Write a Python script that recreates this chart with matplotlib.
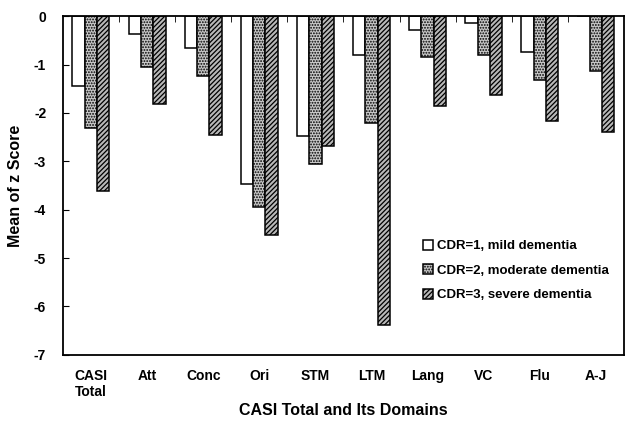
import matplotlib.pyplot as plt
import numpy as np

plt.rcParams['font.family'] = ['Liberation Sans', 'DejaVu Sans']
plt.rcParams['hatch.linewidth'] = 0.9
plt.rcParams['axes.unicode_minus'] = False

# domains and mean z scores per CDR group
domains = ["CASI\nTotal", "Att", "Conc", "Ori", "STM", "LTM", "Lang", "VC", "Flu", "A-J"]
cdr1 = [-1.44, -0.36, -0.65, -3.46, -2.47, -0.81, -0.29, -0.15, -0.74, 0.0]
cdr2 = [-2.32, -1.05, -1.24, -3.95, -3.06, -2.20, -0.84, -0.81, -1.32, -1.13]
cdr3 = [-3.61, -1.82, -2.46, -4.52, -2.69, -6.38, -1.85, -1.62, -2.17, -2.39]
labels = ["CDR=1, mild dementia", "CDR=2, moderate dementia", "CDR=3, severe dementia"]

fig = plt.figure(figsize=(6.29, 4.24), dpi=100)
ax = fig.add_axes([0.1, 0.163, 0.892, 0.799])

x = np.arange(len(domains)) + 0.5
w = 0.22
ax.bar(x - w, cdr1, w, color="white", edgecolor="black", linewidth=1.1, label=labels[0])
ax.bar(x, cdr2, w, color="#c8c8c8", edgecolor="black", linewidth=1.1, hatch="......", label=labels[1])
ax.bar(x + w, cdr3, w, color="#b8b8b8", edgecolor="black", linewidth=1.1, hatch="///////", label=labels[2])

ax.set_xlim(0, 10)
ax.set_ylim(-7, 0)
ax.set_yticks(range(-7, 1))
ax.set_xticks(x)
ax.set_xticklabels(domains, fontweight="bold", fontsize=10, ha="center", multialignment="left")
ax.set_xticks(np.arange(1, 10), minor=True)
ax.tick_params(axis="x", which="major", length=0, pad=10)
ax.tick_params(axis="x", which="minor", top=True, bottom=False, direction="in", length=4)
ax.tick_params(axis="y", direction="in", length=4, labelsize=10, pad=12)
for lab in ax.get_yticklabels():
    lab.set_fontweight("bold")
for s in ax.spines.values():
    s.set_linewidth(1.3)

ax.set_ylabel("Mean of z Score", fontsize=11.5, fontweight="bold", labelpad=8)
fig.text(0.546, 0.033, "CASI Total and Its Domains", fontsize=11.5, fontweight="bold",
         ha="center", va="center")

ax.legend(loc="upper left", bbox_to_anchor=(0.62, 0.375), frameon=False,
          prop={"weight": "bold", "size": 9.5}, handlelength=0.8, handleheight=0.8,
          handletextpad=0.3, labelspacing=0.9)

fig.savefig("out.png", dpi=100)
